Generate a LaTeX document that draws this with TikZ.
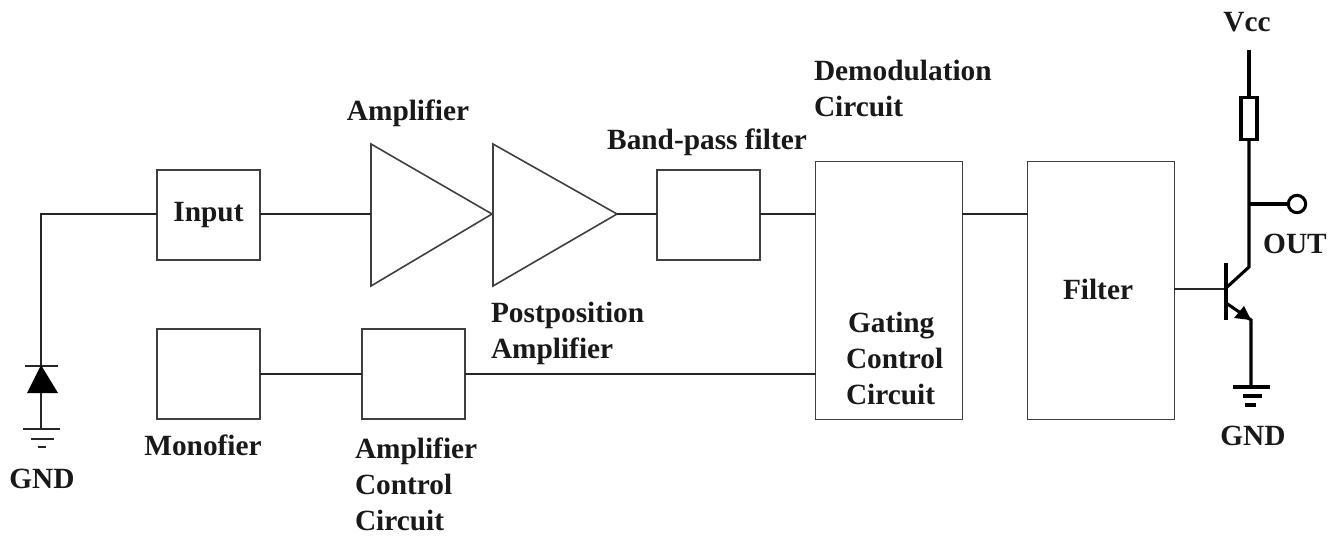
\documentclass[tikz,border=0pt]{standalone}
\usepackage{fontspec}
\setmainfont{Liberation Serif}
\begin{document}
\begin{tikzpicture}[x=0.75pt,y=-0.75pt,
  wire/.style={line width=1.2pt,color=black!85},
  heavy/.style={line width=2.3pt,color=black},
  lbl/.style={font=\fontsize{22}{27}\selectfont\bfseries,inner sep=0pt,outer sep=0pt,align=left,color=black!90},
  clbl/.style={lbl,align=center},
  box/.style={draw=black!75,line width=1.2pt,inner sep=0pt,outer sep=0pt,font=\fontsize{22}{27}\selectfont\bfseries,align=center,text=black!90},
  sbox/.style={box,minimum width=77.25pt,minimum height=67.5pt},
  tbox/.style={box,minimum width=110pt,minimum height=193.5pt}]
\useasboundingbox (0,0) rectangle (1341,536);
\fill[white] (0,0) rectangle (1341,536);
% blocks
\node[sbox] (input) at (208.5,215) {Input};
\node[sbox] (bpf) at (708.5,215) {};
\node[sbox] (mono) at (208.5,374) {};
\node[sbox] (actl) at (413.5,374) {};
\node[tbox] (demod) at (889,290.5) {};
\node[tbox] (filter) at (1101,290.5) {};
% amplifiers
\coordinate (a1in) at (371,214); \coordinate (a1out) at (492,214);
\coordinate (a2in) at (493,214); \coordinate (a2out) at (617,214);
\coordinate (top) at (0,214);
\draw[draw=black!75,line width=1.2pt,line join=miter] (371,144) -- (a1out) -- (371,286) -- cycle;
\draw[draw=black!75,line width=1.2pt,line join=miter] (493,144) -- (a2out) -- (493,286) -- cycle;
% connectors
\coordinate (dtop) at (41,366);
\draw[wire] (dtop) -- (41,214) -- (input.west |- top);
\draw[wire] (input.east |- top) -- (a1in);
\draw[wire] (a2out) -- (bpf.west |- top);
\draw[wire] (bpf.east |- top) -- (demod.west |- top);
\draw[wire] (demod.east |- top) -- (filter.west |- top);
\draw[wire] (mono.east) -- (actl.west);
\draw[wire] (actl.east) -- (demod.west |- actl.east);
% photodiode
\coordinate (dbase) at (41,393); \coordinate (g1) at (41,429);
\draw[wire] (25,366) -- (58,366);
\fill[black] (41,365) -- (27,393) -- (58,393) -- cycle;
\draw[wire] (dbase) -- (g1);
\draw[wire] (23,429) -- (60,429);
\draw[wire] (31,439) -- (54,439);
\draw[wire] (38,447) -- (46,447);
% transistor
\coordinate (bjt) at (1226,289);
\coordinate (col) at (1249,267);
\coordinate (emi) at (1251,320);
\coordinate (gnd) at (1251,387);
\coordinate (vcc) at (1249,50);
\coordinate (tap) at (1249,204);
\node[draw=black,line width=2.3pt,inner sep=0pt,outer sep=0pt,minimum width=12pt,minimum height=32pt] (res) at (1249,118.5) {};
\node[circle,draw=black,line width=2.3pt,inner sep=0pt,outer sep=0pt,minimum size=13pt] (out) at (1297,204) {};
\draw[wire,line width=1.5pt] (filter.east |- bjt) -- (bjt);
\draw[heavy] (1226,263) -- (1226,320);
\draw[heavy] (vcc) -- (res.north);
\draw[heavy] (res.south) -- (col) -- (1226,288);
\draw[heavy] (tap) -- (out.west);
\draw[heavy] (1226,303) -- (emi) -- (gnd);
\fill[black] (emi) -- (1234,318) -- (1244,306) -- cycle;
\draw[heavy] (1233,387) -- (1270,387);
\draw[heavy] (1243,396) -- (1262,396);
\draw[heavy] (1245,405) -- (1256,405);
% labels
\node[clbl] (lamp) at (408,113) {Amplifier};
\node[clbl] (lbpf) at (707,142) {Band-pass filter};
\node[lbl,anchor=west] (ldem) at (814,88.5) {Demodulation\\Circuit};
\node[lbl,anchor=west] (lpost) at (491,333) {Postposition\\Amplifier};
\node[lbl,anchor=west] (lgate) at (846,358.5) {\hspace{1.5pt}Gating\\Control\\Circuit};
\node[clbl] (lfil) at (1098,289) {Filter};
\node[clbl] (lmono) at (203,445) {Monofier};
\node[lbl,anchor=west] (lact) at (355,484) {Amplifier\\Control\\Circuit};
\node[clbl] (lg1) at (42,479) {GND};
\node[clbl] (lvcc) at (1247,22) {Vcc};
\node[clbl] (lout) at (1295,244) {OUT};
\node[clbl] (lg2) at (1253,436) {GND};
\end{tikzpicture}
\end{document}
